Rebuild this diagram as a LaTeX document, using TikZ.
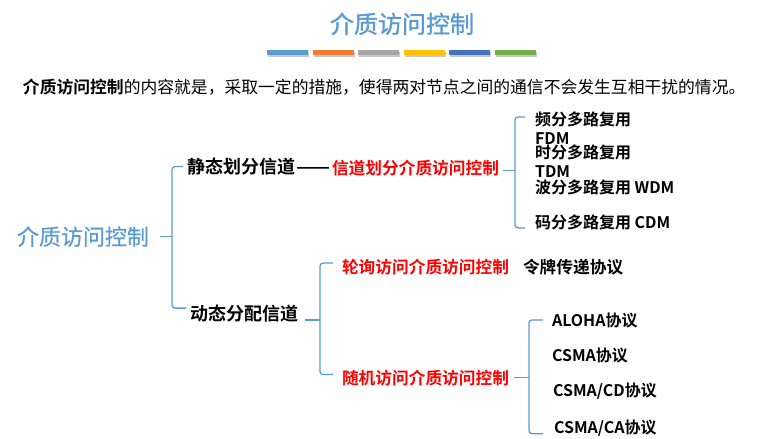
\documentclass[tikz,border=0pt]{standalone}
\usepackage{graphicx}
\usepackage{fontspec}
\setmainfont{Noto Sans CJK SC}[BoldFont={Noto Sans CJK SC Bold}]
\newfontfamily\headfont{Noto Sans CJK SC}[FakeBold=1.2]
\newfontfamily\rootfont{Noto Sans CJK SC}[FakeBold=0.6]
\definecolor{lineblue}{HTML}{5B9BD5}
\definecolor{titleblue}{HTML}{5B9BD5}
\definecolor{barA}{HTML}{5B9BD5}
\definecolor{barB}{HTML}{ED7D31}
\definecolor{barC}{HTML}{A5A5A5}
\definecolor{barD}{HTML}{FFC000}
\definecolor{barE}{HTML}{4472C4}
\definecolor{barF}{HTML}{70AD47}
\definecolor{redtext}{HTML}{FF0000}
\tikzset{
  txt/.style={inner sep=0pt, outer sep=0pt, anchor=base west},
  branch/.style={txt, font=\fontsize{18}{20}\selectfont\bfseries},
  method/.style={txt, text=redtext, font=\fontsize{16.7}{19}\selectfont\bfseries},
  leaf/.style={txt, font=\fontsize{16}{19}\selectfont\bfseries},
  brc/.style={draw=lineblue, line width=1.3pt, rounded corners=3pt},
  bar/.style={inner sep=0pt, minimum width=41pt, minimum height=5pt},
}
\begin{document}
\begin{tikzpicture}[x=1pt,y=-1pt]
\useasboundingbox (0,0) rectangle (758,439);
\fill[white] (0,0) rectangle (758,439);

% heading and colour strip
\node[txt, anchor=base, text=titleblue, font=\fontsize{24}{28}\headfont] (title) at (402,33) {介质访问控制};
\foreach \c [count=\i from 0] in {barA,barB,barC,barD,barE,barF}{
  \fill[black!22] (268+\i*45.5,52) rectangle ++(41,5);
  \node[bar, fill=\c, anchor=north west] (bar\i) at (267+\i*45.5,50) {};
}

% introductory sentence
\node[txt, font=\fontsize{16.8}{19}\selectfont] (intro) at (23,93.5)
  {\textbf{介质访问控制}的内容就是，采取一定的措施，使得两对节点之间的通信不会发生互相干扰的情况。};

% root
\node[txt, text=titleblue, font=\fontsize{22}{26}\rootfont] (root) at (17,245) {介质访问控制};

% first level
\node[branch] (static) at (187,173.5) {静态划分信道\kern1pt\resizebox{34pt}{\height}{——}};
\node[method] (chan) at (332,174) {信道划分介质访问控制};
\node[branch] (dynamic) at (190,320) {动态分配信道};

% channel partitioning
\node[leaf] (fdmA) at (535,125) {频分多路复用};
\node[leaf] (fdmB) at (535,144) {FDM};
\node[leaf] (tdmA) at (535,158) {时分多路复用};
\node[leaf] (tdmB) at (535,177) {TDM};
\node[leaf] (wdm) at (535,193) {波分多路复用 WDM};
\node[leaf] (cdm) at (535,228) {码分多路复用 CDM};

% dynamic allocation
\node[method] (poll) at (342,273.5) {轮询访问介质访问控制};
\node[leaf, font=\fontsize{16.7}{19}\selectfont\bfseries] (token) at (523,273.5) {令牌传递协议};
\node[method] (rand) at (342,384) {随机访问介质访问控制};
\node[leaf] (aloha) at (552,326) {ALOHA协议};
\node[leaf] (csma) at (552,361) {CSMA协议};
\node[leaf] (csmacd) at (553,396) {CSMA/CD协议};
\node[leaf] (csmaca) at (554,433) {CSMA/CA协议};

% braces
\draw[brc] ([xshift=11pt]root.east) -- ++(12,0) coordinate (s1);
\draw[brc] ([xshift=-4pt]static.west) -| (s1) |- ([xshift=-4pt,yshift=5pt]dynamic.west);

\draw[brc] ([xshift=4pt,yshift=-3pt]chan.east) -- ++(12,0) coordinate (s2);
\draw[brc] ([xshift=-10pt,yshift=2pt]fdmA.west) -| (s2) |- ([xshift=-10pt,yshift=-6pt]cdm.west);

\draw[brc] ([xshift=7pt,yshift=-7pt]dynamic.east) -- ++(15,0) coordinate (s3);
\draw[brc] ([xshift=-9pt,yshift=4pt]poll.west) -| (s3) |- ([xshift=-9pt,yshift=3pt]rand.west);

\draw[brc] ([xshift=5pt]rand.east) -- ++(15,0) coordinate (s4);
\draw[brc] ([xshift=-9pt]aloha.west) -| (s4) |- ([xshift=-11pt,yshift=-6pt]csmaca.west);
\end{tikzpicture}
\end{document}
